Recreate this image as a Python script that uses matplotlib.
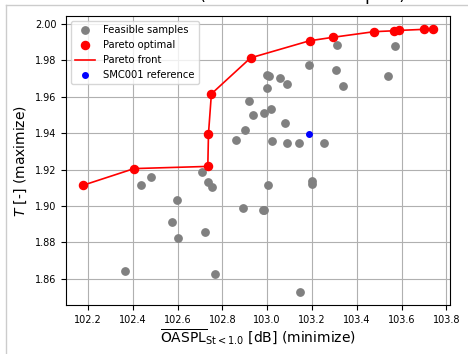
import matplotlib.pyplot as plt
from matplotlib.lines import Line2D

# Muestras factibles (OASPL medio, T)
oaspl_factibles = [102.709, 102.738, 102.752, 102.436, 102.481, 102.598, 102.576, 102.601,
                   102.721, 102.364, 102.766, 102.890, 102.860, 102.900, 102.920, 102.936,
                   102.985, 103.015, 102.997, 103.009, 102.997, 103.056, 103.090, 103.080,
                   103.020, 103.089, 103.140, 103.187, 103.252, 103.312, 103.307, 103.340,
                   103.541, 103.569, 103.004, 103.200, 103.200, 102.980, 102.987, 103.147]
t_factibles = [1.9186, 1.9133, 1.9103, 1.9116, 1.9157, 1.9035, 1.8910, 1.8826,
               1.8857, 1.8640, 1.8627, 1.8990, 1.9361, 1.9416, 1.9579, 1.9502,
               1.9509, 1.9531, 1.9720, 1.9712, 1.9647, 1.9702, 1.9673, 1.9458,
               1.9359, 1.9346, 1.9348, 1.9776, 1.9346, 1.9886, 1.9748, 1.9660,
               1.9717, 1.9877, 1.9116, 1.9138, 1.9122, 1.8976, 1.8975, 1.8527]

# Puntos Pareto optimos
oaspl_pareto = [102.180, 102.406, 102.735, 102.738, 102.751, 102.926, 103.189, 103.293,
                103.477, 103.566, 103.589, 103.702, 103.738]
t_pareto = [1.9114, 1.9205, 1.9217, 1.9397, 1.9616, 1.9814, 1.9908, 1.9927,
            1.9958, 1.9963, 1.9965, 1.9971, 1.9972]

# Referencia SMC001
oaspl_ref = [103.187]
t_ref = [1.9395]

fig = plt.figure(figsize=(4.68, 3.54), dpi=100)
ax = fig.add_axes([66 / 468, 49 / 354, 384 / 468, 289 / 354])

ax.scatter(oaspl_factibles, t_factibles, s=28, color="gray", label="Feasible samples", zorder=3)
ax.scatter(oaspl_pareto, t_pareto, s=34, color="red", label="Pareto optimal", zorder=4)
ax.plot(oaspl_pareto, t_pareto, color="red", lw=1.2, label="Pareto front", zorder=4)
ax.scatter(oaspl_ref, t_ref, s=16, color="blue", label="SMC001 reference", zorder=5)

ax.set_xticks([102.2, 102.4, 102.6, 102.8, 103.0, 103.2, 103.4, 103.6, 103.8])
ax.set_yticks([1.86, 1.88, 1.90, 1.92, 1.94, 1.96, 1.98, 2.00])
ax.tick_params(labelsize=7)
ax.grid(True, zorder=0)
ax.set_axisbelow(True)

ax.set_xlabel(r"$\overline{\mathrm{OASPL}}_{\mathrm{St}<1.0}$ [dB] (minimize)", fontsize=10, labelpad=2)
ax.set_ylabel(r"$T$ [-] (maximize)", fontsize=10, labelpad=4)
ax.legend(loc="upper left", fontsize=7.2)

# titulo cortado arriba, solo se ven los descendentes
fig.text(0.868, 1.0 + 0.5 / 354, "Results (Pareto front of samples)", ha="right", va="baseline", fontsize=12)

# borde gris claro de la imagen
fig.add_artist(Line2D([6 / 468, 1], [1 - 5 / 354, 1 - 5 / 354], color="#cccccc", lw=1))
fig.add_artist(Line2D([6 / 468, 6 / 468], [0, 1 - 5 / 354], color="#cccccc", lw=1))

fig.savefig("out.png", dpi=100)
